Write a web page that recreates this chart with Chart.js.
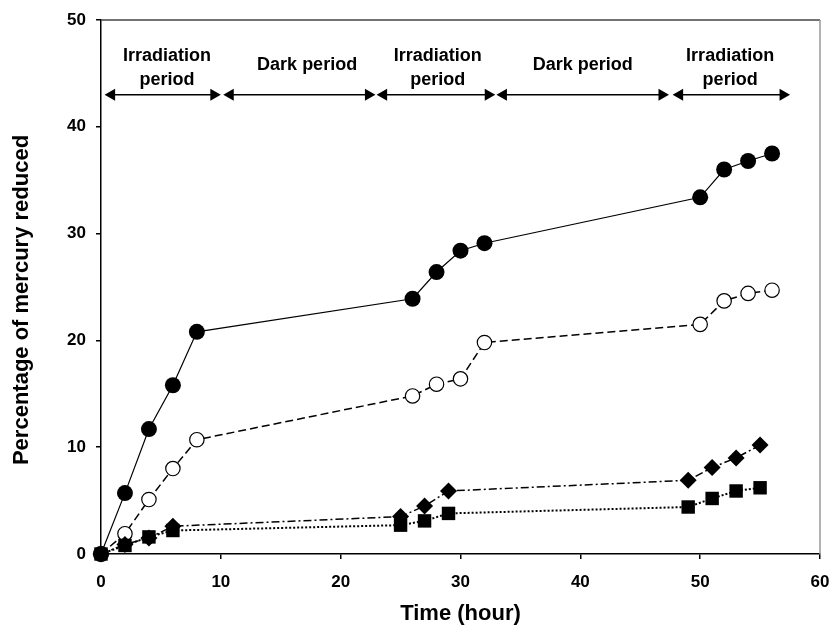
<!DOCTYPE html>
<html>
<head>
<meta charset="utf-8">
<script src="https://cdn.jsdelivr.net/npm/chart.js@4"></script>
<style>
  body { margin: 0; background: #fff; }
  #wrap { width: 835px; height: 635px; }
</style>
</head>
<body>
<div id="wrap"><canvas id="chart" width="835" height="635"></canvas></div>
<script>
// sampling times (hours)
const timesA = [0, 2, 4, 6, 8, 26, 28, 30, 32, 50, 52, 54, 56];
const timesB = [0, 2, 4, 6, 25, 27, 29, 49, 51, 53, 55];

// percentage of mercury reduced
const filledCircles = [0, 5.7, 11.7, 15.8, 20.8, 23.9, 26.4, 28.4, 29.1, 33.4, 36.0, 36.8, 37.5];
const openCircles = [0, 1.9, 5.1, 8.0, 10.7, 14.8, 15.9, 16.4, 19.8, 21.5, 23.7, 24.4, 24.7];
const diamonds = [0, 0.9, 1.5, 2.6, 3.5, 4.5, 5.9, 6.9, 8.1, 9.0, 10.2];
const squares = [0, 0.8, 1.6, 2.2, 2.7, 3.1, 3.8, 4.4, 5.2, 5.9, 6.2];

// irradiation / dark periods (arrow tips, hours)
const periodStart = [0.3, 10.2, 23.0, 33.0, 47.7];
const periodEnd = [10.0, 22.9, 32.9, 47.4, 57.5];
const periodText = [["Irradiation", "period"], ["Dark period"], ["Irradiation", "period"], ["Dark period"], ["Irradiation", "period"]];
const periodTextX = [5.5, 17.2, 28.1, 40.2, 52.5];
const arrowLevel = 43;

const xTicks = [0, 10, 20, 30, 40, 50, 60];
const yTicks = [0, 10, 20, 30, 40, 50];

const FONT = "'Liberation Sans', Arial, sans-serif";

function toPoints(xs, ys) {
  return xs.map((x, i) => ({ x: x, y: ys[i] }));
}

const arrowRadius = 7;
const arrowSets = periodStart.map((s, i) => ({
  data: [{ x: s, y: arrowLevel }, { x: periodEnd[i], y: arrowLevel }],
  isArrow: true,
  borderColor: "#000",
  backgroundColor: "#000",
  borderWidth: 1.5,
  pointStyle: "triangle",
  pointRotation: [-90, 90],
  pointRadius: arrowRadius,
  pointBorderWidth: 0,
  pointBackgroundColor: "#000"
}));

// shift arrow heads inward so the tips land on the period limits
const arrowTipPlugin = {
  id: "arrowTips",
  afterDatasetsUpdate(chart) {
    chart.data.datasets.forEach((ds, i) => {
      if (!ds.isArrow) return;
      const pts = chart.getDatasetMeta(i).data;
      pts[0].x += arrowRadius;
      pts[1].x -= arrowRadius;
    });
  }
};

const extrasPlugin = {
  id: "extras",
  afterDraw(chart) {
    const { ctx, chartArea, scales } = chart;
    ctx.save();
    // top and right frame
    ctx.lineWidth = 1.5;
    ctx.strokeStyle = "#444";
    ctx.beginPath();
    ctx.moveTo(chartArea.left, chartArea.top);
    ctx.lineTo(chartArea.right, chartArea.top);
    ctx.stroke();
    ctx.strokeStyle = "#999";
    ctx.beginPath();
    ctx.moveTo(chartArea.right, chartArea.top);
    ctx.lineTo(chartArea.right, chartArea.bottom);
    ctx.stroke();

    // period labels
    ctx.fillStyle = "#000";
    ctx.font = "bold 18px " + FONT;
    ctx.textAlign = "center";
    ctx.textBaseline = "middle";
    periodText.forEach((lines, i) => {
      const x = scales.x.getPixelForValue(periodTextX[i]);
      if (lines.length === 2) {
        ctx.fillText(lines[0], x, scales.y.getPixelForValue(46.6));
        ctx.fillText(lines[1], x, scales.y.getPixelForValue(44.4));
      } else {
        ctx.fillText(lines[0], x, scales.y.getPixelForValue(45.8));
      }
    });

    // y axis title
    ctx.font = "bold 22px " + FONT;
    ctx.translate(22, 300);
    ctx.rotate(-Math.PI / 2);
    ctx.fillText("Percentage of mercury reduced", 0, 0);
    ctx.restore();
  }
};

new Chart(document.getElementById("chart"), {
  type: "line",
  data: {
    datasets: [
      {
        data: toPoints(timesB, squares),
        borderColor: "#000",
        borderWidth: 2,
        borderDash: [2, 2],
        pointStyle: "rect",
        pointRadius: 9.5,
        pointBackgroundColor: "#000",
        pointBorderColor: "#000",
        pointBorderWidth: 0
      },
      {
        data: toPoints(timesB, diamonds),
        borderColor: "#000",
        borderWidth: 1.5,
        borderDash: [8, 3, 2, 3],
        pointStyle: "rectRot",
        pointRadius: 8.5,
        pointBackgroundColor: "#000",
        pointBorderColor: "#000",
        pointBorderWidth: 0
      },
      {
        data: toPoints(timesA, openCircles),
        borderColor: "#000",
        borderWidth: 1.5,
        borderDash: [8, 4],
        pointStyle: "circle",
        pointRadius: 7.2,
        pointBackgroundColor: "#fff",
        pointBorderColor: "#000",
        pointBorderWidth: 1.2
      },
      {
        data: toPoints(timesA, filledCircles),
        borderColor: "#000",
        borderWidth: 1.2,
        pointStyle: "circle",
        pointRadius: 8,
        pointBackgroundColor: "#000",
        pointBorderColor: "#000",
        pointBorderWidth: 0
      },
      ...arrowSets
    ]
  },
  options: {
    responsive: false,
    animation: false,
    clip: false,
    elements: { line: { tension: 0, fill: false } },
    layout: { padding: { top: 20, right: 15, left: 0, bottom: 0 } },
    plugins: {
      legend: { display: false },
      tooltip: { enabled: false }
    },
    scales: {
      x: {
        type: "linear",
        min: xTicks[0],
        max: xTicks[xTicks.length - 1],
        afterBuildTicks: s => { s.ticks = xTicks.map(v => ({ value: v })); },
        afterFit: s => { s.height = 81; s.paddingLeft = 0; s.paddingRight = 0; },
        border: { display: true, color: "#000", width: 1.5 },
        grid: { drawOnChartArea: false, drawTicks: true, tickLength: 5, color: "#000", lineWidth: 1.5 },
        ticks: { color: "#000", padding: 13, font: { family: FONT, size: 17, weight: "bold" } },
        title: {
          display: true,
          text: "Time (hour)",
          color: "#000",
          font: { family: FONT, size: 22, weight: "bold" },
          padding: { top: 0, bottom: 8 }
        }
      },
      y: {
        min: yTicks[0],
        max: yTicks[yTicks.length - 1],
        afterBuildTicks: s => { s.ticks = yTicks.map(v => ({ value: v })); },
        afterFit: s => { s.width = 101; s.paddingTop = 0; s.paddingBottom = 0; },
        border: { display: true, color: "#000", width: 1.5 },
        grid: { drawOnChartArea: false, drawTicks: true, tickLength: 5, color: "#000", lineWidth: 1.5 },
        ticks: { color: "#000", padding: 10, font: { family: FONT, size: 17, weight: "bold" } }
      }
    }
  },
  plugins: [arrowTipPlugin, extrasPlugin]
});
</script>
</body>
</html>
